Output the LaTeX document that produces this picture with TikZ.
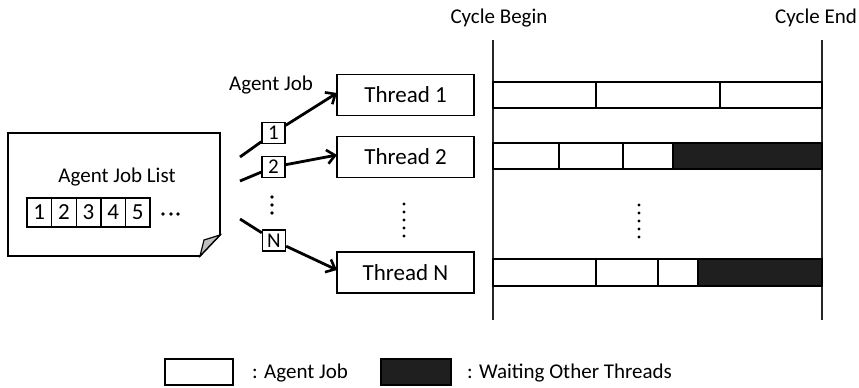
\documentclass[tikz,border=0pt]{standalone}
\usepackage{fontspec}
\setmainfont{Carlito}
\usetikzlibrary{arrows.meta}
\begin{document}
\begin{tikzpicture}[x=1pt,y=-1pt,
  every node/.style={font=\fontsize{21}{24}\selectfont, inner sep=0pt},
  thread/.style={draw, line width=1.6pt, fill=white, minimum width=137pt, minimum height=41pt, font=\fontsize{23}{26}\selectfont},
  jobtag/.style={draw, line width=1.4pt, fill=white, minimum width=23pt, minimum height=21pt},
  listcell/.style={draw, line width=1.4pt, fill=white, minimum width=24.6pt, minimum height=29pt, font=\fontsize{23}{26}\selectfont},
  jobcell/.style={draw, line width=1.6pt, fill=white},
  waitcell/.style={draw, line width=1.6pt, fill=black!88},
  timeline/.style={line width=1.1pt, draw=black!85},
  dispatch/.style={line width=2.8pt, -{Straight Barb[length=8pt,width=14pt,line width=2.6pt]}},
  feed/.style={line width=2.8pt},
  dotmark/.style={fill=black, draw=none}]
\useasboundingbox (0,0) rectangle (859,388);

% job list sheet with folded corner
\draw[line width=1.6pt, fill=white] (8,133) -- (220,133) -- (220,235) -- (200,256) -- (8,256) -- cycle;
\draw[line width=1.2pt, fill=black!25] (220,235) -- (200,256) -- (204,240) -- cycle;
\node (listtitle) at (117,177) {Agent Job List};
\foreach \i [count=\k from 0] in {1,2,3,4,5}
  \node[listcell] (c\i) at (39.3+24.6*\k,212.5) {\i};
\foreach \x in {163,171,178} \fill[dotmark] (\x,214) circle (1.9pt);

% dispatch label
\node (jobhead) at (271,85) {Agent Job};

% thread boxes
\node[thread] (t1) at (405.5,95) {Thread 1};
\node[thread] (t2) at (405.5,157) {Thread 2};
\node[thread] (tn) at (405.5,272.5) {Thread N};

% job tags on the dispatch arrows
\node[jobtag] (j1) at (273.5,133) {1};
\node[jobtag] (j2) at (273.5,167) {2};
\node[jobtag] (jn) at (274,240.5) {N};

\coordinate (s1) at (240,157);
\coordinate (s2) at (240,181);
\coordinate (sn) at (240,219);
\coordinate (e1) at (337,93);
\coordinate (e2) at (337,155);
\coordinate (en) at (337,270);

\draw[feed] (s1) -- (j1);
\draw[dispatch] (j1) -- (e1);
\draw[feed] (s2) -- (j2);
\draw[dispatch] (j2) -- (e2);
\draw[feed] (sn) -- (jn);
\draw[dispatch] (jn) -- (en);

\foreach \y in {197,205,213} \fill[dotmark] (272,\y) circle (1.8pt);
\foreach \y in {204,212,220,228,236} \fill[dotmark] (404,\y) circle (1.7pt);
\foreach \y in {205,213,221,229,237} \fill[dotmark] (639,\y) circle (1.7pt);

% cycle boundaries
\node (cb) at (499,18) {Cycle Begin};
\node (ce) at (816,18) {Cycle End};
\draw[timeline] (493,40) -- (493,320);
\draw[timeline] (822,40) -- (822,320);

% per-thread schedules
\draw[jobcell] (493,82) rectangle (596,108);
\draw[jobcell] (596,82) rectangle (720,108);
\draw[jobcell] (720,82) rectangle (822,108);

\draw[jobcell] (493,143) rectangle (559,169);
\draw[jobcell] (559,143) rectangle (623,169);
\draw[jobcell] (623,143) rectangle (673,169);
\draw[waitcell] (673,143) rectangle (822,169);

\draw[jobcell] (493,259) rectangle (596,286);
\draw[jobcell] (596,259) rectangle (658,286);
\draw[jobcell] (658,259) rectangle (698,286);
\draw[waitcell] (698,259) rectangle (822,286);

% legend
\draw[jobcell] (165,359) rectangle (233,385);
\node[anchor=west] (lgjob) at (252,373) {: Agent Job};
\draw[waitcell] (381,359) rectangle (451,385);
\node[anchor=west] (lgwait) at (467,373) {: Waiting Other Threads};
\end{tikzpicture}
\end{document}
